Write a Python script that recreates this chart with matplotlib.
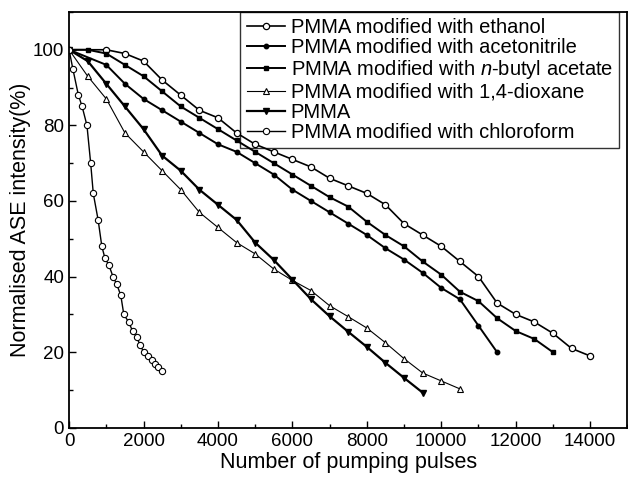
import numpy as np
import matplotlib
matplotlib.use('Agg')
import matplotlib.pyplot as plt
from matplotlib.ticker import MultipleLocator

plt.rcParams['font.family'] = ['Liberation Sans', 'DejaVu Sans']
plt.rcParams['mathtext.fontset'] = 'custom'
plt.rcParams['mathtext.rm'] = 'Liberation Sans'
plt.rcParams['mathtext.it'] = 'Liberation Sans:italic'

# data (pulses, normalised ASE intensity %)
x_ethanol = [0, 1000, 1500, 2000, 2500, 3000, 3500, 4000, 4500, 5000, 5500, 6000, 6500, 7000,
             7500, 8000, 8500, 9000, 9500, 10000, 10500, 11000, 11500, 12000, 12500, 13000,
             13500, 14000]
y_ethanol = [100, 100, 99, 97, 92, 88, 84, 82, 78, 75, 73, 71, 69, 66,
             64, 62, 59, 54, 51, 48, 44, 40, 33, 30, 28, 25, 21, 19]

x_aceto = [0, 1000, 1500, 2000, 2500, 3000, 3500, 4000, 4500, 5000, 5500, 6000, 6500, 7000,
           7500, 8000, 8500, 9000, 9500, 10000, 10500, 11000, 11500]
y_aceto = [100, 96, 91, 87, 84, 81, 78, 75, 73, 70, 67, 63, 60, 57,
           54, 51, 47.5, 44.5, 41, 37, 34, 27, 20]

x_butyl = [0, 500, 1000, 1500, 2000, 2500, 3000, 3500, 4000, 4500, 5000, 5500, 6000, 6500,
           7000, 7500, 8000, 8500, 9000, 9500, 10000, 10500, 11000, 11500, 12000, 12500, 13000]
y_butyl = [100, 100, 99, 96, 93, 89, 85, 82, 79, 76, 73, 70, 67, 64,
           61, 58.5, 54.5, 51, 48, 44, 40.5, 36, 33.5, 29, 25.6, 23.5, 20]

x_dioxane = [0, 500, 1000, 1500, 2000, 2500, 3000, 3500, 4000, 4500, 5000, 5500, 6000, 6500,
             7000, 7500, 8000, 8500, 9000, 9500, 10000, 10500]
y_dioxane = [100, 93, 87, 78, 73, 68, 63, 57, 53, 49, 46, 42, 39, 36.3,
             32.3, 29.4, 26.4, 22.5, 18.3, 14.5, 12.4, 10.3]

x_pmma = [0, 500, 1000, 1500, 2000, 2500, 3000, 3500, 4000, 4500, 5000, 5500, 6000, 6500,
          7000, 7500, 8000, 8500, 9000, 9500]
y_pmma = [100, 97, 91, 85, 79, 72, 68, 63, 59, 55, 49, 44.4, 39.2, 34,
          29.5, 25.4, 21.4, 17.2, 13.2, 9.3]

x_chloro = [0, 100, 250, 350, 480, 580, 650, 780, 880, 960, 1070, 1180, 1280, 1390, 1470,
            1600, 1710, 1820, 1900, 2010, 2110, 2220, 2300, 2380, 2490]
y_chloro = [100, 95, 88, 85, 80, 70, 62, 55, 48, 45, 43, 40, 38, 35, 30,
            28, 25.5, 24, 22, 20, 19, 18, 17, 16, 15]

fig = plt.figure(figsize=(6.28, 4.78), dpi=100)
ax = fig.add_axes([0.110, 0.105, 0.889, 0.870])

ax.plot(x_ethanol, y_ethanol, '-o', color='black', lw=1.2, ms=4.5, mfc='white', mew=0.9,
        label='PMMA modified with ethanol')
ax.plot(x_aceto, y_aceto, '-o', color='black', lw=1.4, ms=3.2, mfc='black',
        label='PMMA modified with acetonitrile')
ax.plot(x_butyl, y_butyl, '-s', color='black', lw=1.4, ms=3.5, mfc='black',
        label=r'PMMA modified with $\mathit{n}$-butyl acetate')
ax.plot(x_dioxane, y_dioxane, '-^', color='black', lw=0.8, ms=4.5, mfc='white', mew=0.8,
        label='PMMA modified with 1,4-dioxane')
ax.plot(x_pmma, y_pmma, '-v', color='black', lw=1.6, ms=4.2, mfc='black',
        label='PMMA')
ax.plot(x_chloro, y_chloro, '-o', color='black', lw=1.0, ms=4.5, mfc='white', mew=0.8,
        label='PMMA modified with chloroform')

ax.set_xlim(0, 15000)
ax.set_ylim(0, 110)
ax.xaxis.set_major_locator(MultipleLocator(2000))
ax.xaxis.set_minor_locator(MultipleLocator(1000))
ax.yaxis.set_major_locator(MultipleLocator(20))
ax.yaxis.set_minor_locator(MultipleLocator(10))
ax.set_xticks(np.arange(0, 14001, 2000))
ax.tick_params(which='both', direction='in', labelsize=13.5, width=1.0)
ax.tick_params(which='major', length=5)
ax.tick_params(which='minor', length=3)
for s in ax.spines.values():
    s.set_linewidth(1.3)

ax.set_xlabel('Number of pumping pulses', fontsize=15.5, labelpad=2)
ax.set_ylabel('Normalised ASE intensity(%)', fontsize=15.5, labelpad=1)

leg = ax.legend(loc='upper right', fontsize=14.5, frameon=True, fancybox=False,
                bbox_to_anchor=(0.985, 1.0), borderaxespad=0, handlelength=1.9,
                handletextpad=0.3, labelspacing=0.06, borderpad=0.3)
leg.get_frame().set_edgecolor('black')
leg.get_frame().set_facecolor('none')
leg.get_frame().set_linewidth(1.0)

fig.savefig('out.png', dpi=100)
